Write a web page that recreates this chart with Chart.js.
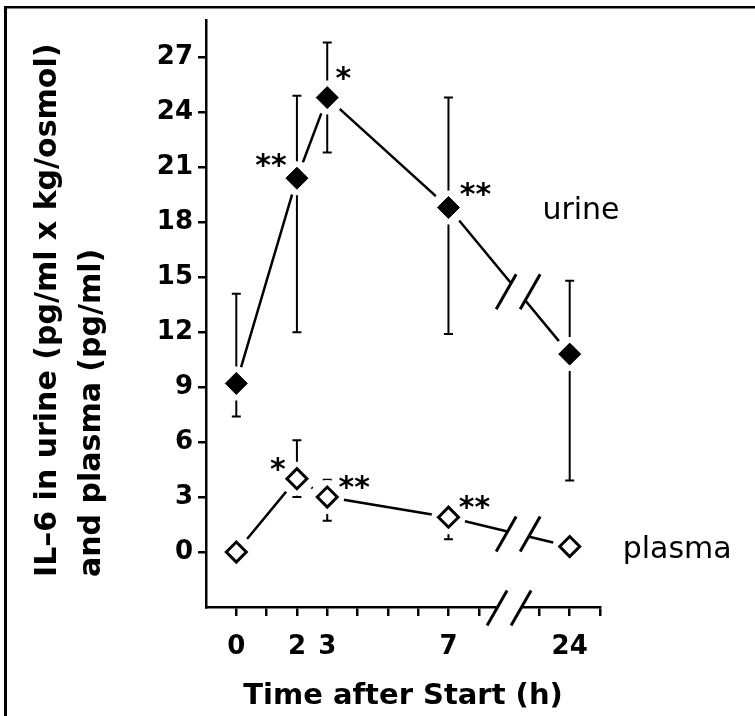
<!DOCTYPE html>
<html>
<head>
<meta charset="utf-8">
<script src="https://cdn.jsdelivr.net/npm/chart.js@4.4.1/dist/chart.umd.min.js"></script>
<style>
  html, body { margin: 0; padding: 0; background: #fff; }
  canvas { display: block; }
</style>
</head>
<body>
<canvas id="il6-chart" width="755" height="716"></canvas>
<script>
// sampling times (h) and the labels shown under the axis
const hours = [0, 2, 3, 7, 24];
const hourLabels = ["0", "2", "3", "7", "24"];
const minorHours = [0, 1, 2, 3, 4, 5, 6, 7, 8, 23, 24, 25];
const yTicks = [0, 3, 6, 9, 12, 15, 18, 21, 24, 27];

// urine IL-6 (pg/ml x kg/osmol)
const urineMean = [9.2, 20.4, 24.8, 18.8, 10.8];
const urineHigh = [14.1, 24.9, 27.8, 24.8, 14.8];
const urineLow = [7.4, 12.0, 21.8, 11.9, 3.9];
const urineSig = ["", "**", "*", "**", ""];

// plasma IL-6 (pg/ml)
const plasmaMean = [0, 4.0, 3.0, 1.9, 0.3];
const plasmaHigh = [0, 6.1, 3.95, 2.3, 0.3];
const plasmaLow = [0, 3.0, 1.7, 0.7, 0.3];
const plasmaSig = ["", "*", "**", "**", ""];

const yTitle = ["IL\u20136 in urine (pg/ml x kg/osmol)", "and plasma (pg/ml)"];

// the x axis is broken between 8 h and 23 h
const axisPos = h => (h > 8 ? h - 13 : h);
const axisBreak = 9;
const lineBreak = 9.3;

const pts = vals => hours.map((h, i) => ({ x: axisPos(h), y: vals[i] }));

const series = [
  { mean: urineMean, high: urineHigh, low: urineLow, sig: urineSig,
    sigOffset: [null, [-26, -20], [16, -27], [27, -21], null],
    name: "urine", at: [10.1, 18.2] },
  { mean: plasmaMean, high: plasmaHigh, low: plasmaLow, sig: plasmaSig,
    sigOffset: [null, [-19, -17], [27, -17], [26, -17], null],
    name: "plasma", at: [12.75, -0.3] }
];

function drawBreak(ctx, cx, cy) {
  const gap = 12, dx = 10, dy = 17.5;
  ctx.fillStyle = "#fff";
  ctx.beginPath();
  ctx.moveTo(cx - gap - dx, cy + dy);
  ctx.lineTo(cx - gap + dx, cy - dy);
  ctx.lineTo(cx + gap + dx, cy - dy);
  ctx.lineTo(cx + gap - dx, cy + dy);
  ctx.closePath();
  ctx.fill();
  ctx.strokeStyle = "#000";
  ctx.lineWidth = 3;
  [-gap, gap].forEach(g => {
    ctx.beginPath();
    ctx.moveTo(cx + g - dx, cy + dy);
    ctx.lineTo(cx + g + dx, cy - dy);
    ctx.stroke();
  });
}

const extras = {
  id: "extras",
  beforeDatasetsDraw(chart) {
    const { ctx, scales: { x, y } } = chart;
    ctx.save();
    ctx.strokeStyle = "#000";
    ctx.lineWidth = 2;
    series.forEach(s => {
      hours.forEach((h, i) => {
        const px = x.getPixelForValue(axisPos(h));
        const pm = y.getPixelForValue(s.mean[i]);
        [s.high[i], s.low[i]].forEach(v => {
          if (Math.abs(v - s.mean[i]) < 0.05) return;
          const pv = y.getPixelForValue(v);
          ctx.beginPath();
          ctx.moveTo(px, pm);
          ctx.lineTo(px, pv);
          ctx.moveTo(px - 4.5, pv);
          ctx.lineTo(px + 4.5, pv);
          ctx.stroke();
        });
      });
    });
    ctx.restore();
  },
  afterDatasetsDraw(chart) {
    const { ctx, scales: { x, y } } = chart;
    ctx.save();
    // breaks in the connecting lines and on the time axis
    const t = (lineBreak - axisPos(7)) / (axisPos(24) - axisPos(7));
    series.forEach(s => {
      const v = s.mean[3] + (s.mean[4] - s.mean[3]) * t;
      drawBreak(ctx, x.getPixelForValue(lineBreak), y.getPixelForValue(v));
    });
    drawBreak(ctx, x.getPixelForValue(axisBreak), y.bottom + 1);

    // significance marks
    ctx.fillStyle = "#000";
    ctx.font = "bold 30px 'DejaVu Sans'";
    ctx.textAlign = "center";
    ctx.textBaseline = "alphabetic";
    series.forEach(s => {
      hours.forEach((h, i) => {
        if (!s.sig[i]) return;
        const px = x.getPixelForValue(axisPos(h)) + s.sigOffset[i][0];
        const py = y.getPixelForValue(s.mean[i]) + s.sigOffset[i][1];
        ctx.fillText(s.sig[i], px, py + 17);
      });
    });

    // series names
    ctx.font = "30px 'DejaVu Sans'";
    ctx.textAlign = "left";
    series.forEach(s => {
      ctx.fillText(s.name, x.getPixelForValue(s.at[0]), y.getPixelForValue(s.at[1]));
    });
    ctx.restore();
  },
  afterDraw(chart) {
    const { ctx } = chart;
    ctx.save();
    ctx.fillStyle = "#000";
    // figure frame
    ctx.fillRect(4, 6, 751, 2.5);
    ctx.fillRect(4, 6, 3, 710);
    // two-line y title, read bottom to top
    ctx.font = "bold 30px 'DejaVu Sans'";
    ctx.textAlign = "left";
    ctx.textBaseline = "middle";
    [48, 92].forEach((cx, i) => {
      ctx.save();
      ctx.translate(cx, 577);
      ctx.rotate(-Math.PI / 2);
      ctx.fillText(yTitle[i], 0, 0);
      ctx.restore();
    });
    ctx.restore();
  }
};

new Chart(document.getElementById("il6-chart"), {
  type: "scatter",
  data: {
    datasets: [
      { data: pts(urineMean), showLine: true, borderColor: "#000", borderWidth: 2.5,
        pointRadius: 0, order: 5 },
      { data: pts(plasmaMean), showLine: true, borderColor: "#000", borderWidth: 2.5,
        pointRadius: 0, order: 5 },
      // white rings keep lines and bars clear of the markers
      { data: pts(urineMean), pointStyle: "circle", pointRadius: 17,
        backgroundColor: "#fff", borderWidth: 0, order: 3 },
      { data: pts(plasmaMean), pointStyle: "circle", pointRadius: 17,
        backgroundColor: "#fff", borderWidth: 0, order: 3 },
      { data: pts(urineMean), pointStyle: "rectRot", pointRadius: 11,
        backgroundColor: "#000", borderColor: "#000", borderWidth: 1, order: 1 },
      { data: pts(plasmaMean), pointStyle: "rectRot", pointRadius: 10,
        backgroundColor: "#fff", borderColor: "#000", borderWidth: 3, order: 1 }
    ]
  },
  options: {
    responsive: false,
    animation: false,
    events: [],
    devicePixelRatio: 1,
    layout: { padding: { top: 15, right: 155, left: 0, bottom: 0 } },
    plugins: { legend: { display: false }, tooltip: { enabled: false } },
    scales: {
      x: {
        type: "linear",
        min: -1,
        max: 12,
        afterFit: s => { s.height = 109; },
        afterBuildTicks: s => { s.ticks = minorHours.map(h => ({ value: axisPos(h) })); },
        grid: { drawOnChartArea: false, drawTicks: true, tickLength: 9, color: "#000", lineWidth: 2.5 },
        border: { display: true, color: "#000", width: 2.5 },
        ticks: {
          color: "#000",
          font: { family: "DejaVu Sans", size: 26, weight: "bold" },
          padding: 16,
          maxRotation: 0,
          autoSkip: false,
          callback: v => {
            const i = hours.findIndex(h => axisPos(h) === v);
            return i >= 0 ? hourLabels[i] : "";
          }
        },
        title: {
          display: true,
          text: "Time after Start (h)",
          color: "#000",
          font: { family: "DejaVu Sans", size: 29, weight: "bold" },
          padding: { top: 4, bottom: 2 }
        }
      },
      y: {
        type: "linear",
        min: -3,
        max: 29,
        afterFit: s => { s.width = 206; },
        afterBuildTicks: s => { s.ticks = yTicks.map(v => ({ value: v })); },
        grid: { drawOnChartArea: false, drawTicks: true, tickLength: 8, color: "#000", lineWidth: 2.5 },
        border: { display: true, color: "#000", width: 2.5 },
        ticks: {
          color: "#000",
          font: { family: "DejaVu Sans", size: 26, weight: "bold" },
          padding: 5
        }
      }
    }
  },
  plugins: [extras]
});
</script>
</body>
</html>
